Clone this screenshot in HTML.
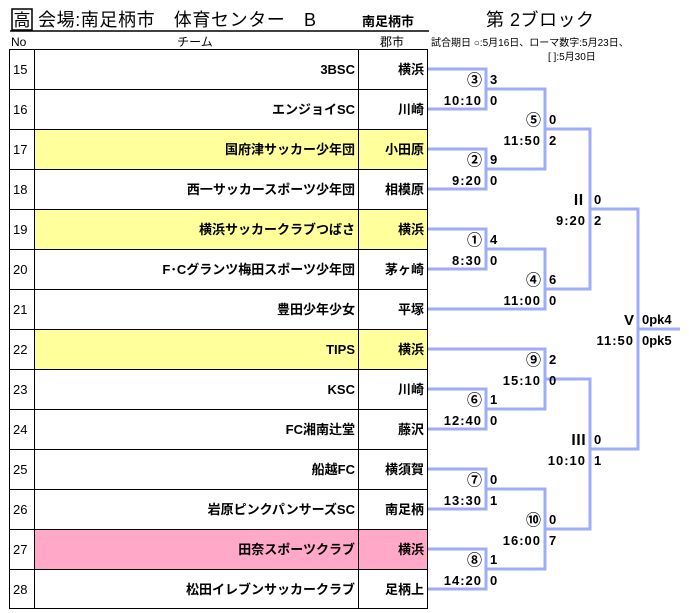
<!DOCTYPE html>
<html><head><meta charset="utf-8"><style>
body{margin:0;background:#fff;}
svg{display:block;font-family:"Liberation Sans","Noto Sans CJK JP",sans-serif;}
.t{font-size:13px;font-weight:bold;}
.n{font-size:13px;}
.s{font-size:13px;font-weight:bold;}
.c{font-size:15px;font-weight:bold;}
</style></head><body>
<svg width="689" height="613" viewBox="0 0 689 613" xmlns="http://www.w3.org/2000/svg">
<rect x="12" y="9" width="20" height="21" fill="none" stroke="#000" stroke-width="1.5"/>
<text x="22" y="26" font-size="17" text-anchor="middle">高</text>
<text x="38" y="26" font-size="18" letter-spacing="0.6">会場:南足柄市　体育センター　B</text>
<text x="362" y="26" font-size="13" font-weight="bold">南足柄市</text>
<text x="486" y="26" font-size="18" letter-spacing="0.5">第  2ブロック</text>
<line x1="10" y1="31" x2="429" y2="31" stroke="#000" stroke-width="1.5"/>
<text x="11" y="46" font-size="12">No</text>
<text x="195" y="46" font-size="12" text-anchor="middle">チーム</text>
<text x="380" y="46" font-size="12">郡市</text>
<text x="431" y="46" font-size="10">試合期日  ○:5月16日、ローマ数字:5月23日、</text>
<text x="548" y="60" font-size="10">[ ]:5月30日</text>
<g id="rows">
<rect x="34" y="129" width="393" height="40" fill="#ffff9c"/>
<rect x="34" y="209" width="393" height="40" fill="#ffff9c"/>
<rect x="34" y="329" width="393" height="40" fill="#ffff9c"/>
<rect x="34" y="529" width="393" height="40" fill="#ffa8c8"/>
</g>
<g stroke="#000" stroke-width="1" fill="none">
<rect x="9.5" y="49.5" width="418" height="559"/>
<line x1="34.5" y1="49" x2="34.5" y2="609"/>
<line x1="358.5" y1="49" x2="358.5" y2="609"/>
<line x1="9" y1="89.5" x2="428" y2="89.5"/>
<line x1="9" y1="129.5" x2="428" y2="129.5"/>
<line x1="9" y1="169.5" x2="428" y2="169.5"/>
<line x1="9" y1="209.5" x2="428" y2="209.5"/>
<line x1="9" y1="249.5" x2="428" y2="249.5"/>
<line x1="9" y1="289.5" x2="428" y2="289.5"/>
<line x1="9" y1="329.5" x2="428" y2="329.5"/>
<line x1="9" y1="369.5" x2="428" y2="369.5"/>
<line x1="9" y1="409.5" x2="428" y2="409.5"/>
<line x1="9" y1="449.5" x2="428" y2="449.5"/>
<line x1="9" y1="489.5" x2="428" y2="489.5"/>
<line x1="9" y1="529.5" x2="428" y2="529.5"/>
<line x1="9" y1="569.5" x2="428" y2="569.5"/>
</g>
<g class="n">
<text x="13" y="74">15</text><text x="13" y="114">16</text><text x="13" y="154">17</text><text x="13" y="194">18</text>
<text x="13" y="234">19</text><text x="13" y="274">20</text><text x="13" y="314">21</text><text x="13" y="354">22</text>
<text x="13" y="394">23</text><text x="13" y="434">24</text><text x="13" y="474">25</text><text x="13" y="514">26</text>
<text x="13" y="554">27</text><text x="13" y="594">28</text>
</g>
<g class="t" text-anchor="end">
<text x="355" y="74">3BSC</text><text x="355" y="114">エンジョイSC</text><text x="355" y="154">国府津サッカー少年団</text>
<text x="355" y="194">西一サッカースポーツ少年団</text><text x="355" y="234">横浜サッカークラブつばさ</text>
<text x="355" y="274">F･Cグランツ梅田スポーツ少年団</text><text x="355" y="314">豊田少年少女</text>
<text x="355" y="354">TIPS</text><text x="355" y="394">KSC</text><text x="355" y="434">FC湘南辻堂</text>
<text x="355" y="474">船越FC</text><text x="355" y="514">岩原ピンクパンサーズSC</text>
<text x="355" y="554">田奈スポーツクラブ</text><text x="355" y="594">松田イレブンサッカークラブ</text>
<text x="424" y="74">横浜</text><text x="424" y="114">川崎</text><text x="424" y="154">小田原</text><text x="424" y="194">相模原</text>
<text x="424" y="234">横浜</text><text x="424" y="274">茅ヶ崎</text><text x="424" y="314">平塚</text><text x="424" y="354">横浜</text>
<text x="424" y="394">川崎</text><text x="424" y="434">藤沢</text><text x="424" y="474">横須賀</text><text x="424" y="514">南足柄</text>
<text x="424" y="554">横浜</text><text x="424" y="594">足柄上</text>
</g>
<g stroke="#9fadf8" stroke-width="3" fill="none">
<polyline points="428,69 486,69 486,109 428,109"/>
<polyline points="428,149 486,149 486,189 428,189"/>
<polyline points="428,229 486,229 486,269 428,269"/>
<polyline points="428,389 486,389 486,429 428,429"/>
<polyline points="428,469 486,469 486,509 428,509"/>
<polyline points="428,549 486,549 486,589 428,589"/>
<polyline points="486,89 545,89 545,169 486,169"/>
<polyline points="486,249 545,249 545,309 428,309"/>
<polyline points="428,349 545,349 545,409 486,409"/>
<polyline points="486,489 545,489 545,569 486,569"/>
<polyline points="545,129 590,129 590,289 545,289"/>
<polyline points="545,379 590,379 590,529 545,529"/>
<polyline points="590,209 638,209 638,449 590,449"/>
<line x1="638" y1="329" x2="680" y2="329"/>
</g>
<g class="c" text-anchor="end">
<text x="482" y="85">③</text><text x="482" y="165">②</text><text x="482" y="245">①</text>
<text x="482" y="405">⑥</text><text x="482" y="485">⑦</text><text x="482" y="565">⑧</text>
<text x="541" y="125">⑤</text><text x="541" y="285">④</text><text x="541" y="365">⑨</text><text x="541" y="525">⑩</text>
<text x="586" y="205">Ⅱ</text><text x="586" y="445">Ⅲ</text><text x="634" y="325">V</text>
</g>
<g class="s" text-anchor="end" letter-spacing="1">
<text x="482" y="105">10:10</text><text x="482" y="185">9:20</text><text x="482" y="265">8:30</text>
<text x="482" y="425">12:40</text><text x="482" y="505">13:30</text><text x="482" y="585">14:20</text>
<text x="541" y="145">11:50</text><text x="541" y="305">11:00</text><text x="541" y="385">15:10</text><text x="541" y="545">16:00</text>
<text x="586" y="225">9:20</text><text x="586" y="465">10:10</text><text x="634" y="345">11:50</text>
</g>
<g class="s">
<text x="490" y="84">3</text><text x="490" y="105">0</text>
<text x="490" y="164">9</text><text x="490" y="185">0</text>
<text x="490" y="244">4</text><text x="490" y="265">0</text>
<text x="490" y="404">1</text><text x="490" y="425">0</text>
<text x="490" y="484">0</text><text x="490" y="505">1</text>
<text x="490" y="564">1</text><text x="490" y="585">0</text>
<text x="549" y="124">0</text><text x="549" y="145">2</text>
<text x="549" y="284">6</text><text x="549" y="305">0</text>
<text x="549" y="364">2</text><text x="549" y="385">0</text>
<text x="549" y="524">0</text><text x="549" y="545">7</text>
<text x="594" y="204">0</text><text x="594" y="225">2</text>
<text x="594" y="444">0</text><text x="594" y="465">1</text>
<text x="642" y="324">0pk4</text><text x="642" y="345">0pk5</text>
</g>
</svg>
</body></html>
